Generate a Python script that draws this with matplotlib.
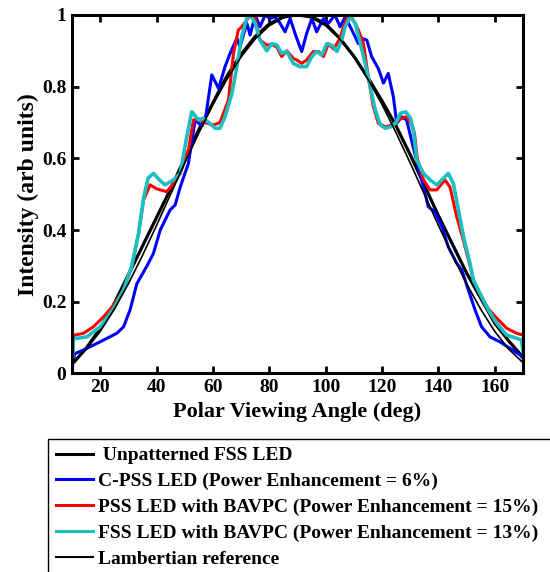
import matplotlib
matplotlib.use("Agg")
import matplotlib.pyplot as plt

# ---- data ----
fss_ang = [10, 15, 20, 25, 30, 35, 40, 45, 50, 55, 60, 65, 70, 75, 80, 85, 90,
           95, 100, 105, 110, 115, 120, 125, 130, 135, 140, 145, 150, 155, 160, 165, 170]
fss_val = [0.025, 0.07, 0.125, 0.195, 0.275, 0.355, 0.435, 0.515, 0.60, 0.68, 0.755, 0.83, 0.89, 0.94, 0.975, 0.995, 1.0,
           0.995, 0.975, 0.935, 0.885, 0.825, 0.76, 0.69, 0.61, 0.525, 0.44, 0.36, 0.28, 0.21, 0.14, 0.09, 0.045]

cpss_ang = [10, 11, 14, 17.6, 21.2, 25.9, 28.3, 30.6, 33, 36.6, 38.9, 41.3, 44.8, 46.6, 48.4, 51.3, 53.7,
            56.1, 57.5, 59.6, 62, 64.3, 66.1, 68.5, 69.6, 72, 73.2, 75, 76.7, 78.5, 80.3, 82.1, 83.8,
            85.6, 87.4, 89.5, 91.5, 93.3, 95.1, 96.8, 99.2, 101, 103.3, 105.1, 106.9, 109.3, 111.6,
            112.8, 114.6, 116.3, 118.7, 120.5, 122.2, 124, 125.2, 127, 128.7, 131.1, 132.5, 134.7,
            136.4, 138.8, 141.2, 143.5, 146.5, 148.3, 150.6, 153, 155.3, 158.3, 161.8, 165.4, 169, 170]
cpss_val = [0.02, 0.055, 0.065, 0.079, 0.093, 0.112, 0.13, 0.177, 0.25, 0.30, 0.335, 0.40, 0.456, 0.47, 0.52, 0.586, 0.707,
            0.69, 0.72, 0.833, 0.795, 0.856, 0.893, 0.935, 0.91, 0.977, 0.944, 1.0, 0.967, 1.0, 0.99, 0.995, 0.977,
            0.953, 0.99, 0.94, 0.898, 0.95, 0.99, 0.953, 0.99, 0.977, 1.0, 0.967, 0.995, 0.958, 0.92,
            0.935, 0.93, 0.884, 0.85, 0.81, 0.837, 0.772, 0.698, 0.716, 0.707, 0.63, 0.586, 0.52,
            0.465, 0.45, 0.41, 0.353, 0.307, 0.288, 0.233, 0.177, 0.13, 0.102, 0.088, 0.07, 0.051, 0.042]

pss_ang = [10, 10.5, 11.1, 14.1, 17.6, 21.2, 24.7, 28.3, 31.2, 33.6, 35.4, 37.7, 40, 43.6, 46, 48.4, 51.3,
           52.5, 53.1, 55, 57, 60.2, 62.5, 65.5, 67.3, 69, 70.2, 71.5, 73.2, 75, 76.7, 79.1, 80.9, 82.7,
           84.4, 86.2, 88.5, 89.8, 91.5, 93.2, 95.6, 97.5, 99.2, 101, 102.8, 105.1, 106.3, 108, 109.5,
           111.6, 113.4, 115.1, 116.9, 118.7, 121.2, 123.5, 125.8, 128.4, 130.1, 131.5, 132.5, 134.7,
           137, 139.4, 142.3, 144.1, 146.5, 148.9, 151.2, 152.4, 155.3, 157.7, 160.7, 164.2, 167.7, 170]
pss_val = [0.01, 0.105, 0.107, 0.112, 0.13, 0.158, 0.19, 0.233, 0.298, 0.39, 0.484, 0.526, 0.515, 0.507, 0.53, 0.558, 0.623,
           0.68, 0.707, 0.71, 0.70, 0.693, 0.70, 0.763, 0.893, 0.958, 0.967, 0.98, 1.0, 0.99, 0.93, 0.916, 0.918, 0.91,
           0.884, 0.90, 0.879, 0.874, 0.865, 0.874, 0.898, 0.898, 0.884, 0.92, 0.905, 0.935, 0.967, 1.0, 0.99,
           0.958, 0.92, 0.828, 0.744, 0.698, 0.688, 0.693, 0.707, 0.716, 0.702, 0.67, 0.60, 0.54,
           0.512, 0.512, 0.54, 0.52, 0.437, 0.37, 0.30, 0.26, 0.214, 0.18, 0.154, 0.126, 0.112, 0.107]

fssb_ang = [10, 10.5, 11.1, 15.3, 20, 24.7, 28.3, 31.2, 33.6, 35.4, 37, 38.9, 41, 43, 46, 48.4, 50.7,
            52.5, 54.9, 56.6, 58.5, 60.8, 62.5, 64.3, 66.7, 68.5, 70.2, 72, 73.2, 75, 76.7, 79.1, 80.9,
            82.7, 84.4, 86.2, 88.5, 90.8, 93.2, 95.1, 96.8, 98.6, 100.4, 102.2, 104, 105.7, 106.9, 108.7,
            110.5, 112.3, 114, 115.8, 117.6, 119.4, 121.2, 123, 124.8, 126.6, 128.4, 130.1, 131.1, 132.3,
            134.7, 137, 139.4, 141.2, 143.5, 145.3, 147.1, 148.9, 151.2, 152.4, 155.3, 157.7, 160.7, 164.2,
            167.7, 169.5, 170]
fssb_val = [0.0, 0.095, 0.097, 0.102, 0.13, 0.18, 0.233, 0.30, 0.39, 0.49, 0.545, 0.558, 0.54, 0.526, 0.54, 0.558, 0.66,
            0.73, 0.707, 0.712, 0.70, 0.684, 0.684, 0.716, 0.78, 0.856, 0.94, 0.99, 1.0, 0.977, 0.93, 0.90, 0.92,
            0.916, 0.893, 0.898, 0.865, 0.856, 0.856, 0.884, 0.898, 0.888, 0.92, 0.916, 0.898, 0.93, 0.967, 0.995,
            0.977, 0.92, 0.865, 0.80, 0.735, 0.693, 0.684, 0.688, 0.698, 0.726, 0.73, 0.712, 0.679, 0.595,
            0.558, 0.54, 0.526, 0.54, 0.558, 0.53, 0.456, 0.381, 0.307, 0.26, 0.214, 0.177, 0.14, 0.107,
            0.098, 0.093, 0.06]

lam_ang = [10, 15, 20, 25, 30, 35, 40, 45, 50, 55, 60, 65, 70, 75, 80, 85, 90,
           95, 100, 105, 110, 115, 120, 125, 130, 135, 140, 145, 150, 155, 160, 165, 170]
lam_val = [0.03, 0.067, 0.117, 0.179, 0.25, 0.329, 0.413, 0.5, 0.587, 0.671, 0.75, 0.821, 0.883, 0.933, 0.97, 0.992, 1.0,
           0.992, 0.97, 0.933, 0.883, 0.821, 0.75, 0.671, 0.587, 0.5, 0.413, 0.329, 0.25, 0.179, 0.117, 0.067, 0.03]

labels = [" Unpatterned FSS LED",
          "C-PSS LED (Power Enhancement = 6%)",
          "PSS LED with BAVPC (Power Enhancement = 15%)",
          "FSS LED with BAVPC (Power Enhancement = 13%)",
          "Lambertian reference"]
x_ticks = [20, 40, 60, 80, 100, 120, 140, 160]
y_ticks = [0, 0.2, 0.4, 0.6, 0.8, 1]
y_ticklabels = ["0", "0.2", "0.4", "0.6", "0.8", "1"]

plt.rcParams['font.family'] = ['Liberation Serif', 'DejaVu Serif']
plt.rcParams['font.weight'] = 'bold'

fig = plt.figure(figsize=(5.5, 5.72), dpi=100)
ax = fig.add_axes([0.1309, 0.3472, 0.8200, 0.6266])

cyan = (0.1, 0.75, 0.75)
l1, = ax.plot(fss_ang, fss_val, color='black', lw=2.3)
l2, = ax.plot(cpss_ang, cpss_val, color='blue', lw=2.2)
l3, = ax.plot(pss_ang, pss_val, color='red', lw=2.2)
l4, = ax.plot(fssb_ang, fssb_val, color=cyan, lw=2.6)
l5, = ax.plot(lam_ang, lam_val, color='black', lw=1.2)

ax.set_xlim(10, 170)
ax.set_ylim(0, 1)
ax.set_xticks(x_ticks)
ax.set_yticks(y_ticks)
ax.set_yticklabels(y_ticklabels)
ax.tick_params(direction='in', length=5, width=2, top=True, right=True,
               labelsize=14, pad=4)
for lab in ax.get_xticklabels() + ax.get_yticklabels():
    lab.set_fontweight('bold')
for s in ax.spines.values():
    s.set_linewidth(2.2)

ax.set_xlabel("Polar Viewing Angle (deg)", fontsize=16, fontweight='bold', labelpad=4)
ax.set_ylabel("Intensity (arb units)", fontsize=17, fontweight='bold', labelpad=2)

handles = [plt.Line2D([], [], color=c, lw=w) for c, w in
           [('black', 2.2), ('blue', 2.2), ('red', 2.2), (cyan, 2.2), ('black', 1.5)]]
leg = fig.legend(handles, labels, loc='upper left',
                 bbox_to_anchor=(0.0873, 0.0, 0.95, 0.2325), mode='expand',
                 prop={'family': 'Liberation Serif', 'weight': 'bold', 'size': 14},
                 frameon=True, fancybox=False, framealpha=1, edgecolor='black',
                 handlelength=1.9, handletextpad=0.25, labelspacing=0.42,
                 borderpad=0.4, borderaxespad=0)
leg.get_frame().set_linewidth(1.0)

fig.savefig("out.png", dpi=100)
